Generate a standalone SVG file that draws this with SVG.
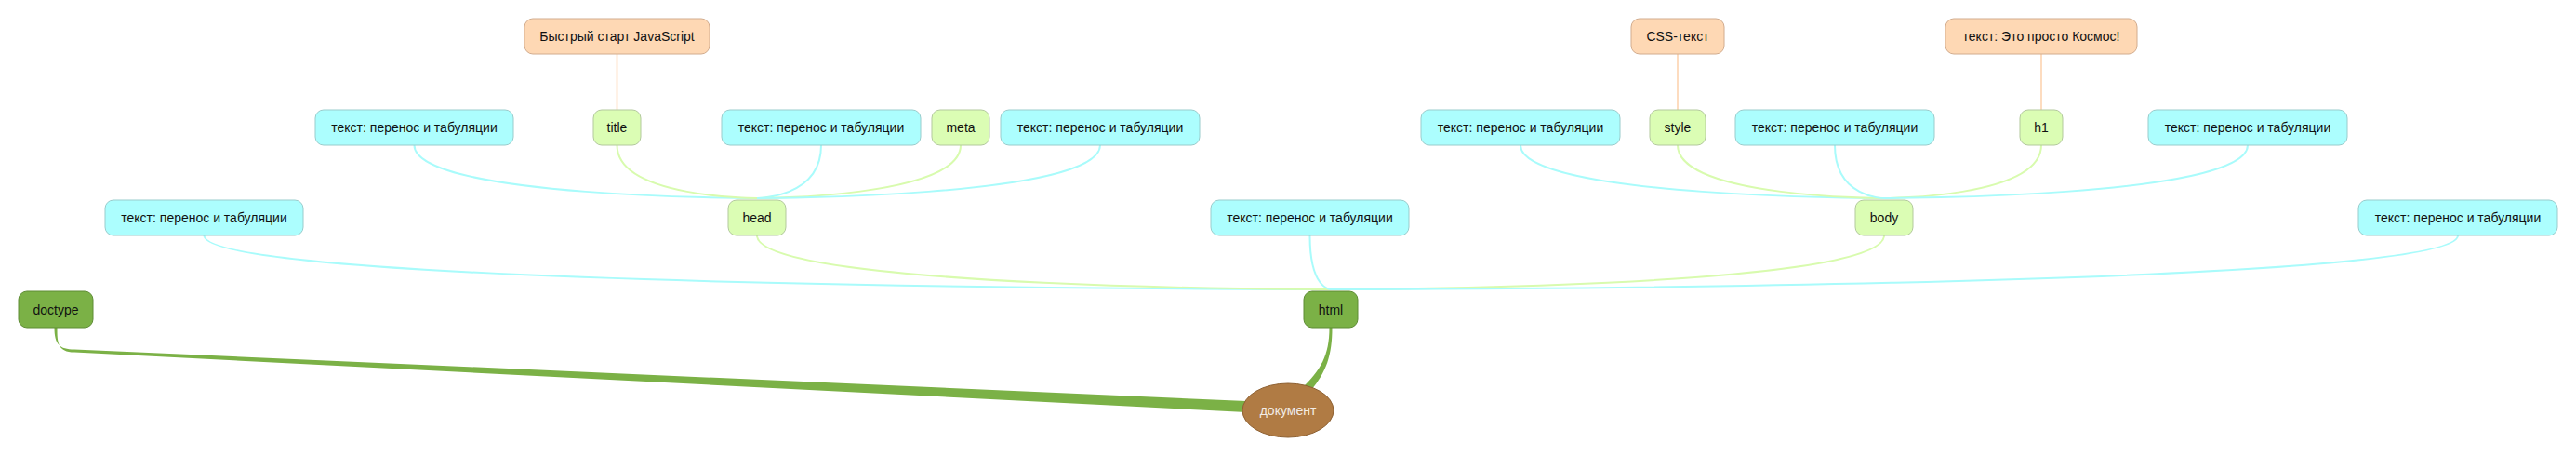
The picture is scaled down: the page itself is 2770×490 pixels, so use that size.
<svg xmlns="http://www.w3.org/2000/svg" width="2770" height="490" viewBox="0 0 2770 490">
<style>
  .n rect { stroke-width: 1; }
  .txt rect { fill: #acfefe; stroke: #99cccc; }
  .tag rect { fill: #dbfdb4; stroke: #b3c99d; }
  .leaf rect { fill: #fed8b4; stroke: #d2ac8e; }
  .root rect { fill: #7bb146; stroke: #5e8c35; }
  .n text { font-family: "Liberation Sans", Arial, sans-serif; font-size: 14px; fill: #111; text-anchor: middle; }
  .c-cyan { fill: none; stroke: #a9fbfb; stroke-width: 2; }
  .c-lime { fill: none; stroke: #d8fbae; stroke-width: 2; }
  .c-peach { fill: none; stroke: #fdd4b0; stroke-width: 1.6; }
  .c-green { fill: #7bb146; stroke: none; }
</style>
<rect width="2770" height="490" fill="#ffffff"/>

<g id="connectors">
  <!-- row1 -> row2 -->
  <path class="c-peach" d="M663.5,58 L663.5,118"/>
  <path class="c-peach" d="M1804,58 L1804,118"/>
  <path class="c-peach" d="M2195,58 L2195,118"/>
  <!-- row2 -> head -->
  <path class="c-cyan" d="M445.5,156 C445.5,213 814,213 814,213"/>
  <path class="c-lime" d="M663.5,156 C663.5,213 814,213 814,213"/>
  <path class="c-cyan" d="M883,156 C883,213 814,213 814,213"/>
  <path class="c-lime" d="M1033,156 C1033,213 814,213 814,213"/>
  <path class="c-cyan" d="M1183,156 C1183,213 814,213 814,213"/>
  <!-- row2 -> body -->
  <path class="c-cyan" d="M1635,156 C1635,213 2026,213 2026,213"/>
  <path class="c-lime" d="M1804,156 C1804,213 2026,213 2026,213"/>
  <path class="c-cyan" d="M1973,156 C1973,213 2026,213 2026,213"/>
  <path class="c-lime" d="M2195,156 C2195,213 2026,213 2026,213"/>
  <path class="c-cyan" d="M2417,156 C2417,213 2026,213 2026,213"/>
  <!-- row3 -> html -->
  <path class="c-cyan" d="M219.5,253 C219.5,311 1431,311 1431,311"/>
  <path class="c-lime" d="M814,253 C814,311 1431,311 1431,311"/>
  <path class="c-cyan" d="M1408.5,253 C1408.5,311 1431,311 1431,311"/>
  <path class="c-lime" d="M2026,253 C2026,311 1431,311 1431,311"/>
  <path class="c-cyan" d="M2643,253 C2643,311 1431,311 1431,311"/>
  <!-- row4 -> document (tapered) -->
  <path class="c-green" d="M58.5,352 C58.5,370 64,375.5 80,375.5 L1340,431 L1340,443 L80,378.5 C62,378.5 61.5,368 61.5,352 Z"/>
  <path class="c-green" d="M1429.5,352 C1429.5,382 1420,398 1400,417 L1410,419 C1426,400 1432.5,382 1432.5,352 Z"/>
</g>

<g id="node-js" class="n leaf"><rect x="564" y="20" width="199" height="38" rx="9"/><text x="663.5" y="44">Быстрый старт JavaScript</text></g>
<g id="node-css" class="n leaf"><rect x="1754" y="20" width="100" height="38" rx="9"/><text x="1804" y="44">CSS-текст</text></g>
<g id="node-kosmos" class="n leaf"><rect x="2092" y="20" width="206" height="38" rx="9"/><text x="2195" y="44">текст: Это просто Космос!</text></g>

<g id="node-t1" class="n txt"><rect x="339" y="118" width="213" height="38" rx="9"/><text x="445.5" y="142">текст: перенос и табуляции</text></g>
<g id="node-title" class="n tag"><rect x="638" y="118" width="51" height="38" rx="9"/><text x="663.5" y="142">title</text></g>
<g id="node-t2" class="n txt"><rect x="776" y="118" width="214" height="38" rx="9"/><text x="883" y="142">текст: перенос и табуляции</text></g>
<g id="node-meta" class="n tag"><rect x="1002" y="118" width="62" height="38" rx="9"/><text x="1033" y="142">meta</text></g>
<g id="node-t3" class="n txt"><rect x="1076" y="118" width="214" height="38" rx="9"/><text x="1183" y="142">текст: перенос и табуляции</text></g>
<g id="node-t4" class="n txt"><rect x="1528" y="118" width="214" height="38" rx="9"/><text x="1635" y="142">текст: перенос и табуляции</text></g>
<g id="node-style" class="n tag"><rect x="1774" y="118" width="60" height="38" rx="9"/><text x="1804" y="142">style</text></g>
<g id="node-t5" class="n txt"><rect x="1866" y="118" width="214" height="38" rx="9"/><text x="1973" y="142">текст: перенос и табуляции</text></g>
<g id="node-h1" class="n tag"><rect x="2172" y="118" width="46" height="38" rx="9"/><text x="2195" y="142">h1</text></g>
<g id="node-t6" class="n txt"><rect x="2310" y="118" width="214" height="38" rx="9"/><text x="2417" y="142">текст: перенос и табуляции</text></g>

<g id="node-t7" class="n txt"><rect x="113" y="215" width="213" height="38" rx="9"/><text x="219.5" y="239">текст: перенос и табуляции</text></g>
<g id="node-head" class="n tag"><rect x="783" y="215" width="62" height="38" rx="9"/><text x="814" y="239">head</text></g>
<g id="node-t8" class="n txt"><rect x="1302" y="215" width="213" height="38" rx="9"/><text x="1408.5" y="239">текст: перенос и табуляции</text></g>
<g id="node-body" class="n tag"><rect x="1995" y="215" width="62" height="38" rx="9"/><text x="2026" y="239">body</text></g>
<g id="node-t9" class="n txt"><rect x="2536" y="215" width="214" height="38" rx="9"/><text x="2643" y="239">текст: перенос и табуляции</text></g>

<g id="node-doctype" class="n root"><rect x="20" y="313" width="80" height="39" rx="9"/><text x="60" y="337.5">doctype</text></g>
<g id="node-html" class="n root"><rect x="1402" y="313" width="58" height="39" rx="9"/><text x="1431" y="337.5">html</text></g>

<g id="node-document"><ellipse cx="1385" cy="441" rx="49" ry="29" fill="#b07b44" stroke="#8e6133" stroke-width="1"/><text x="1385" y="446" font-family="'Liberation Sans', Arial, sans-serif" font-size="14" fill="#f2ece6" text-anchor="middle">документ</text></g>
</svg>
